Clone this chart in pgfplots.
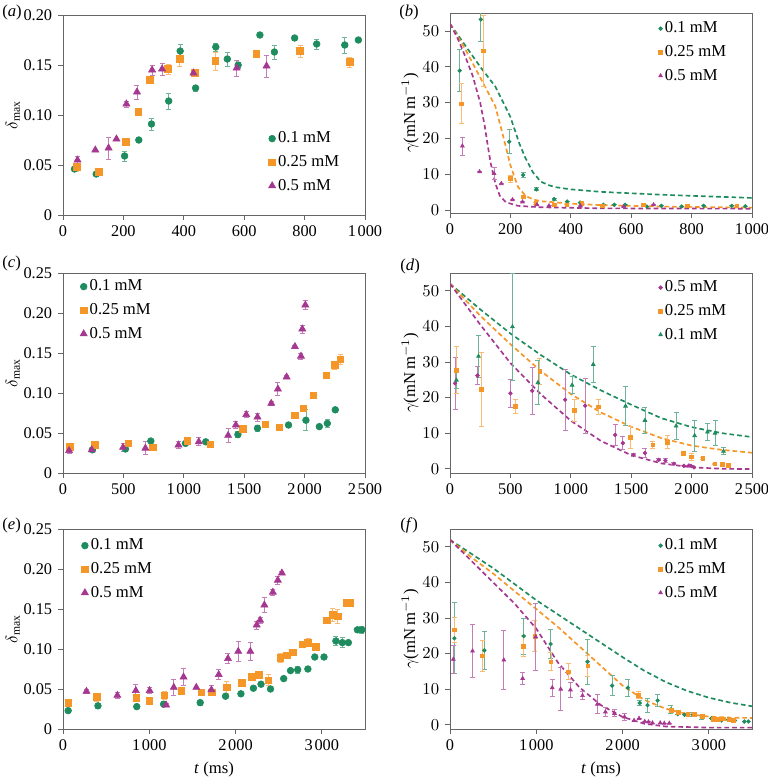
\documentclass[border=0pt]{standalone}
\usepackage{pgfplots}
\pgfplotsset{compat=1.18}
\usepackage{fontspec}
\setmainfont{Liberation Serif}

\definecolor{cg}{RGB}{30,140,95}
\definecolor{co}{RGB}{245,150,40}
\definecolor{cp}{RGB}{165,55,145}

\newcommand{\ts}{\hspace{0.1em}}

\pgfplotsset{
  panel/.style={
    width=181.2pt, height=120pt, scale only axis,
    axis line style={black!60},
    tick align=outside, xtick pos=bottom, ytick pos=left,
    major tick length=3pt,
    tick style={black!60, line width=0.5pt},
    ticklabel style={font=\fontsize{9.8}{11}\selectfont},
    legend cell align=left,
    legend style={draw=none, fill=none, row sep=3pt, inner sep=0pt,
      nodes={inner sep=1.5pt}},
    legend image code/.code={\draw[mark repeat=2,mark phase=2,##1]
      plot coordinates {(0cm,0cm) (0.08cm,0cm) (0.16cm,0cm)};},
  },
  big/.style={mark size=2pt},
  small/.style={mark size=1.1pt},
  ser/.style={only marks, color=#1, mark options={solid, fill=#1, draw=#1},
    error bars/.cd, y dir=both, y explicit,
    error bar style={#1!65!white, line width=0.5pt},
    error mark options={rotate=90, #1!65!white, mark size=1.5pt, line width=0.5pt}},
  fit/.style={color=#1, line width=1pt, dash pattern=on 2.8pt off 1.8pt, forget plot},
  delta/.style={ylabel={$\delta_{\mathrm{max}}$},
    ylabel style={at={(axis description cs:-0.166,0.5)}, anchor=center}},
  gamma/.style={ymin=-0.8, ymax=55, ytick={0,10,20,30,40,50},
    ylabel={$\gamma$(mN\,m$^{-1}$)},
    ylabel style={at={(axis description cs:-0.132,0.5)}, anchor=center}},
}

\begin{document}
\begin{tikzpicture}
\useasboundingbox (0pt,0pt) rectangle (460.8pt,-466.2pt);

% (a)
\begin{axis}[panel, delta, at={(37.8pt,-129pt)},
  xmin=0, xmax=1000, ymin=0, ymax=0.2,
  xtick={0,200,400,600,800,1000}, xticklabels={0,200,400,600,800,1\ts000},
  ytick={0,0.05,0.1,0.15,0.2}, yticklabels={0,0.05,0.10,0.15,0.20},
  legend style={at={(0.68,0.43)}, anchor=north west}]
\addplot+[big, mark=*, ser=cg] table[x index=0, y index=1, y error index=2] {
38 0.046 0.002
110 0.041 0.002
204 0.059 0.005
251 0.075 0.002
293 0.091 0.006
350 0.114 0.008
388 0.164 0.007
439 0.127 0.003
506 0.168 0.004
544 0.156 0.007
580 0.150 0.003
652 0.180 0
700 0.163 0.007
767 0.177 0.002
840 0.171 0.005
933 0.170 0.008
978 0.175 0.002
};
\addplot+[big, mark=square*, ser=co] table[x index=0, y index=1, y error index=2] {
46 0.048 0.004
118 0.043 0.002
207 0.073 0.003
249 0.103 0.002
288 0.135 0.002
348 0.146 0.005
387 0.156 0.007
436 0.142 0.003
504 0.154 0.009
640 0.161 0.003
785 0.164 0.006
950 0.153 0.005
};
\addplot+[big, mark=triangle*, mark size=2.4pt, ser=cp] table[x index=0, y index=1, y error index=2] {
48 0.055 0.004
107 0.065 0.001
151 0.067 0.011
177 0.076 0.001
210 0.111 0.003
245 0.123 0.007
295 0.145 0.005
328 0.146 0.006
432 0.142 0.002
575 0.147 0.008
674 0.149 0.011
};
\legend{0.1 mM, 0.25 mM, 0.5 mM}
\end{axis}

% (b)
\begin{axis}[panel, gamma, at={(270pt,-127.8pt)},
  xmin=0, xmax=1000,
  xtick={0,200,400,600,800,1000}, xticklabels={0,200,400,600,800,1\ts000},
  legend style={at={(0.69,0.97)}, anchor=north west}]
\addplot[fit=cg] coordinates {(0,52) (50,46) (100,40) (150,34.5) (200,26) (230,18.5) (250,14.5) (275,10.5) (300,8) (325,7) (350,6.4) (400,5.8) (500,5.1) (600,4.7) (700,4.3) (800,4.0) (900,3.7) (1000,3.4)};
\addplot[fit=co] coordinates {(0,52) (50,45) (100,37) (150,29) (175,21) (200,12.5) (225,6.5) (250,4) (275,3) (300,2.5) (400,1.8) (500,1.4) (700,1.0) (1000,0.7)};
\addplot[fit=cp] coordinates {(0,52) (25,48) (50,43) (75,37.5) (100,30) (115,23.5) (125,18) (135,13) (150,7.5) (165,4) (185,2.2) (225,1.2) (300,0.8) (500,0.5) (1000,0.4)};
\addplot+[small, mark=*, ser=cg] table[x index=0, y index=1, y error index=2] {
32 38.9 5.9
102 53.2 6.2
196 19.1 3.3
242 9.8 0.6
286 5.8 0.4
345 3.1 0.3
388 2.4 0
431 2.1 0
508 1.5 0
544 1.5 0
580 1.5 0
652 1.0 0
700 1.2 0
767 1.0 0
840 1.2 0
933 1.2 0
978 1.1 0
};
\addplot+[small, mark=square*, ser=co] table[x index=0, y index=1, y error index=2] {
38 29.7 5.6
110 44.4 10
199 8.8 1
242 3.7 0.3
284 1.9 0.3
345 1.5 0
387 1.5 0
436 1.9 0
504 1.2 0
640 1.5 0
785 1.2 0
950 1.2 0
};
\addplot+[small, mark=triangle*, mark size=1.3pt, ser=cp] table[x index=0, y index=1, y error index=2] {
41 17.9 2.5
98 10.7 0
146 10.2 1.6
170 7.4 0
207 2.9 0
240 2.3 0
288 1.5 0
328 1.2 0
432 1.2 0
575 1.0 0
674 1.5 0
};
\legend{0.1 mM, 0.25 mM, 0.5 mM}
\end{axis}

% (c)
\begin{axis}[panel, delta, at={(37.8pt,-283.8pt)},
  xmin=0, xmax=2500, ymin=0, ymax=0.25,
  xtick={0,500,1000,1500,2000,2500}, xticklabels={0,500,1\ts000,1\ts500,2\ts000,2\ts500},
  ytick={0,0.05,0.1,0.15,0.2,0.25}, yticklabels={0,0.05,0.10,0.15,0.20,0.25},
  legend style={at={(0.056,0.98)}, anchor=north west}]
\addplot+[big, mark=*, ser=cg] table[x index=0, y index=1, y error index=2] {
243 0.029 0.002
517 0.030 0.003
727 0.040 0.002
1014 0.037 0.002
1182 0.039 0.002
1448 0.048 0.004
1610 0.056 0.004
1867 0.060 0.003
2011 0.066 0.013
2122 0.058 0.002
2188 0.062 0.005
2254 0.079 0.003
};
\addplot+[big, mark=square*, ser=co] table[x index=0, y index=1, y error index=2] {
55 0.033 0.003
262 0.035 0.004
541 0.037 0.002
746 0.032 0.002
1028 0.040 0.002
1221 0.036 0.002
1489 0.055 0.004
1674 0.061 0.002
1790 0.057 0.004
1920 0.072 0.004
1989 0.081 0.002
2072 0.097 0.003
2180 0.122 0.002
2249 0.135 0.005
2296 0.142 0.006
};
\addplot+[big, mark=triangle*, mark size=2.4pt, ser=cp] table[x index=0, y index=1, y error index=2] {
50 0.028 0.003
238 0.029 0.002
497 0.032 0.005
682 0.031 0.008
956 0.035 0.004
1124 0.039 0.005
1367 0.047 0.009
1431 0.060 0.004
1517 0.073 0.004
1610 0.070 0.005
1724 0.087 0.002
1779 0.105 0.008
1851 0.120 0.002
1920 0.158 0.002
1970 0.146 0.004
1981 0.180 0.005
2006 0.210 0.006
};
\legend{0.1 mM, 0.25 mM, 0.5 mM}
\end{axis}

% (d)
\begin{axis}[panel, gamma, ymin=-1.2, at={(270pt,-283.8pt)},
  xmin=0, xmax=2500,
  xtick={0,500,1000,1500,2000,2500}, xticklabels={0,500,1\ts000,1\ts500,2\ts000,2\ts500},
  legend style={at={(0.69,0.975)}, anchor=north west}]
\addplot[fit=cg] coordinates {(0,52) (250,44.8) (500,38) (750,32) (1000,26.5) (1250,22) (1500,18) (1750,14.2) (2000,11.7) (2250,10) (2500,8.9)};
\addplot[fit=co] coordinates {(0,52) (250,43) (500,35) (750,27.5) (1000,21) (1250,15.8) (1500,11.8) (1750,8.6) (2000,6.5) (2250,5.3) (2500,4.5)};
\addplot[fit=cp] coordinates {(0,52) (250,40.5) (500,29.7) (750,21) (1000,13.5) (1250,7.8) (1500,3.8) (1750,1.5) (2000,0.4) (2250,0) (2500,-0.1)};
\addplot+[small, mark=*, ser=cp] table[x index=0, y index=1, y error index=2] {
42 24.0 7.3
228 26.2 2.5
500 21.2 3.9
680 21.9 6.5
953 19.4 8.6
1119 17.7 7.7
1367 9.5 3.0
1431 7.2 1.8
1519 3.9 0.3
1614 4.4 1.3
1728 2.5 0.3
1783 2.3 0.6
1853 1.4 0.3
1936 0.8 0
1978 0.9 0
1995 0.8 0
2019 0.4 0
};
\addplot+[small, mark=square*, ser=co] table[x index=0, y index=1, y error index=2] {
50 27.7 6.6
258 22.3 10.3
539 17.6 2.0
744 27.3 3.6
1031 16.4 3.0
1228 17.4 2.2
1494 8.8 3.0
1678 6.7 1.0
1797 7.5 1.8
1931 4.3 0.3
1997 3.3 1.0
2092 2.9 0.3
2192 1.4 0.2
2256 1.2 0.2
2303 1.0 0.2
};
\addplot+[small, mark=triangle*, mark size=1.3pt, ser=cg] table[x index=0, y index=1, y error index=2] {
53 24.9 2.2
236 31.6 6.0
517 39.9 15
728 24.2 6.2
1011 23.5 2.4
1186 29.3 5.1
1453 17.6 5.4
1614 13.6 3.7
1872 12.0 3.7
2025 9.3 4.4
2131 10.3 2.3
2194 10.0 3.5
2264 4.9 1.0
};
\legend{0.5 mM, 0.25 mM, 0.1 mM}
\end{axis}

% (e)
\begin{axis}[panel, delta, at={(37.8pt,-437.4pt)},
  xmin=0, xmax=3500, ymin=0, ymax=0.25,
  xtick={0,1000,2000,3000}, xticklabels={0,1\ts000,2\ts000,3\ts000},
  ytick={0,0.05,0.1,0.15,0.2,0.25}, yticklabels={0,0.05,0.10,0.15,0.20,0.25},
  xlabel={\textit{t} (ms)},
  legend style={at={(0.06,0.965)}, anchor=north west}]
\addplot+[big, mark=*, ser=cg] table[x index=0, y index=1, y error index=2] {
60 0.023 0
405 0.029 0.003
855 0.028 0
1166 0.031 0.003
1590 0.033 0.003
1884 0.041 0
2062 0.044 0
2207 0.051 0
2295 0.056 0
2405 0.050 0
2558 0.063 0
2637 0.073 0
2720 0.074 0.004
2838 0.075 0
2918 0.090 0
3025 0.090 0
3163 0.110 0.006
3237 0.108 0.006
3307 0.108 0.002
3412 0.124 0
3464 0.124 0.004
};
\addplot+[big, mark=square*, ser=co] table[x index=0, y index=1, y error index=2] {
62 0.033 0
389 0.040 0.005
848 0.039 0.004
1000 0.035 0
1175 0.042 0.005
1373 0.048 0.004
1605 0.046 0.003
1728 0.046 0.003
1895 0.052 0.008
2070 0.058 0.004
2190 0.065 0.003
2268 0.068 0.002
2380 0.061 0.007
2517 0.089 0.006
2595 0.092 0.002
2665 0.096 0.003
2774 0.106 0.004
2840 0.108 0.005
2929 0.103 0
3054 0.136 0
3124 0.143 0.008
3182 0.141 0.009
3287 0.158 0.002
3326 0.158 0.004
};
\addplot+[big, mark=triangle*, mark size=2.4pt, ser=cp] table[x index=0, y index=1, y error index=2] {
272 0.047 0.002
630 0.042 0.004
844 0.048 0.008
1004 0.048 0.004
1195 0.030 0.002
1284 0.052 0.010
1397 0.065 0.011
1545 0.052 0
1720 0.049 0.005
1805 0.068 0.006
1912 0.088 0.006
2031 0.097 0.012
2171 0.097 0.011
2245 0.130 0.005
2284 0.136 0.004
2334 0.155 0.009
2432 0.171 0.004
2490 0.186 0.005
2537 0.195 0.002
};
\legend{0.1 mM, 0.25 mM, 0.5 mM}
\end{axis}

% (f)
\begin{axis}[panel, gamma, ymin=-1.2, at={(270pt,-437.4pt)},
  xmin=0, xmax=3500,
  xtick={0,1000,2000,3000}, xticklabels={0,1\ts000,2\ts000,3\ts000},
  xlabel={\textit{t} (ms)},
  legend style={at={(0.69,0.965)}, anchor=north west}]
\addplot[fit=cg] coordinates {(0,52) (250,48) (500,44) (750,39.5) (1000,35) (1250,31) (1500,27) (1750,23) (2000,19) (2250,15.2) (2500,12) (2750,9.5) (3000,7.6) (3250,6.2) (3500,5.2)};
\addplot[fit=co] coordinates {(0,52) (250,47) (500,42.5) (750,37.5) (1000,32.5) (1250,27.5) (1500,22) (1750,16.5) (2000,11) (2250,7) (2500,4.5) (2750,3) (3000,2.3) (3250,2.0) (3500,1.9)};
\addplot[fit=cp] coordinates {(0,52) (250,46) (500,40) (750,34) (1000,27) (1250,17.5) (1500,10.5) (1750,5.5) (2000,2.2) (2250,0.3) (2500,-0.5) (3000,-0.8) (3500,-0.8)};
\addplot+[small, mark=*, ser=cg] table[x index=0, y index=1, y error index=2] {
51 24.3 10
398 20.9 5.4
854 24.9 5.0
1166 22.7 4.0
1594 17.7 6.4
1879 11.0 2.8
2062 10.4 2.4
2199 6.1 0.6
2289 5.5 2.0
2406 6.8 1.7
2561 4.3 1.0
2640 3.0 0
2717 2.8 0
2815 2.8 0.6
2920 2.1 0.5
3029 1.8 0
3146 1.2 0
3224 1.4 0
3302 1.2 0
3411 0.9 0
3458 0.9 0
};
\addplot+[small, mark=square*, ser=co] table[x index=0, y index=1, y error index=2] {
47 26.7 3.5
378 19.4 4.4
850 22.1 3.0
982 24.9 4.3
1170 17.7 2.5
1368 14.9 2.2
1598 16.6 3.0
2183 8.3 1.0
2563 4.1 0.5
2650 3.4 0
2757 3.0 0
2830 2.9 0
2924 2.3 0
3049 1.5 0
3107 1.6 0
3166 1.7 0
3236 1.4 0
3280 1.3 0
};
\addplot+[small, mark=triangle*, mark size=1.3pt, ser=cp] table[x index=0, y index=1, y error index=2] {
39 18.4 4.0
261 20.7 7.4
624 18.2 8.2
842 13.0 1.7
994 24.7 9.3
1185 10.4 2.4
1283 10.0 6.0
1396 9.8 2.0
1536 8.2 1.2
1708 5.8 2.6
1801 3.6 1.3
1906 3.2 1.0
2023 2.2 1.0
2133 1.2 0
2191 1.8 0
2257 0.9 0
2300 0.8 0
2347 0.5 0
2436 0.5 0
2483 0.4 0
2541 0.4 0
};
\legend{0.1 mM, 0.25 mM, 0.5 mM}
\end{axis}

\node[anchor=west, inner sep=0pt] at (1.2pt,-7.5pt) {(\textit{a})};
\node[anchor=west, inner sep=0pt] at (239.4pt,-7.5pt) {(\textit{b})};
\node[anchor=west, inner sep=0pt] at (1.2pt,-158pt) {(\textit{c})};
\node[anchor=west, inner sep=0pt] at (240pt,-160pt) {(\textit{d})};
\node[anchor=west, inner sep=0pt] at (1.2pt,-315pt) {(\textit{e})};
\node[anchor=west, inner sep=0pt] at (240pt,-315pt) {(\textit{f})};
\end{tikzpicture}
\end{document}
